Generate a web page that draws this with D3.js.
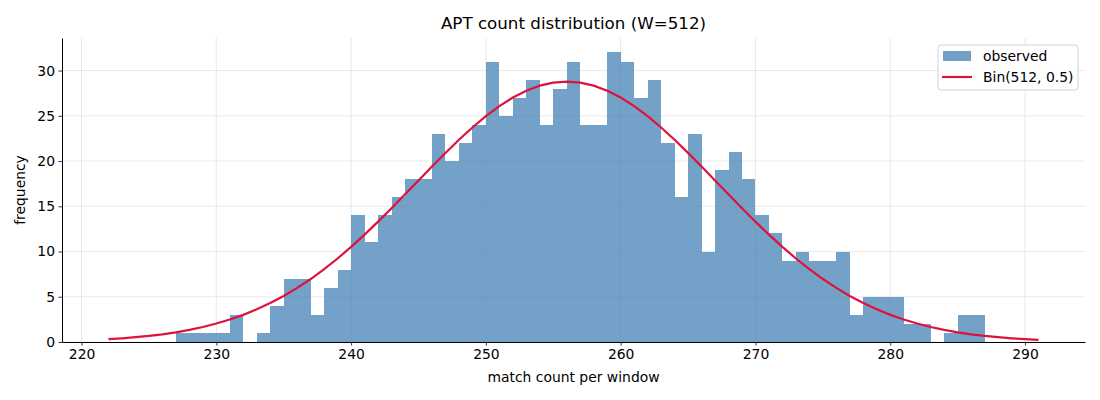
<!DOCTYPE html>
<html>
<head>
<meta charset="utf-8">
<script src="https://cdn.jsdelivr.net/npm/d3@7"></script>
<style>
  body { margin: 0; background: #fff; }
  svg { font-family: "DejaVu Sans", sans-serif; }
</style>
</head>
<body>
<div id="chart"></div>
<script>
// observed histogram, one bin per integer match count (bin start values)
var binStarts = [227, 228, 229, 230, 231, 232, 233, 234, 235, 236, 237, 238, 239, 240,
  241, 242, 243, 244, 245, 246, 247, 248, 249, 250, 251, 252, 253, 254, 255, 256,
  257, 258, 259, 260, 261, 262, 263, 264, 265, 266, 267, 268, 269, 270, 271, 272,
  273, 274, 275, 276, 277, 278, 279, 280, 281, 282, 283, 284, 285, 286];
var binCounts = [1, 1, 1, 1, 3, 0, 1, 4, 7, 7, 3, 6, 8, 14,
  11, 14, 16, 18, 18, 23, 20, 22, 24, 31, 25, 27, 29, 24, 28, 31,
  24, 24, 32, 31, 27, 29, 22, 16, 23, 10, 19, 21, 18, 14, 12, 9,
  10, 9, 9, 10, 3, 5, 5, 5, 2, 2, 0, 1, 3, 3];

// expected curve Bin(512, 0.5)
var curveX = [222, 223, 224, 225, 226, 227, 228, 229, 230, 231, 232, 233, 234, 235,
  236, 237, 238, 239, 240, 241, 242, 243, 244, 245, 246, 247, 248, 249, 250, 251,
  252, 253, 254, 255, 256, 257, 258, 259, 260, 261, 262, 263, 264, 265, 266, 267,
  268, 269, 270, 271, 272, 273, 274, 275, 276, 277, 278, 279, 280, 281, 282, 283,
  284, 285, 286, 287, 288, 289, 290, 291];
var curveY = [0.31, 0.41, 0.53, 0.67, 0.85, 1.07, 1.34, 1.66, 2.04, 2.48, 3.0, 3.61, 4.3, 5.09,
  5.98, 6.96, 8.05, 9.23, 10.51, 11.87, 13.3, 14.79, 16.32, 17.86, 19.39, 20.9, 22.35, 23.71, 24.96, 26.08,
  27.02, 27.78, 28.33, 28.67, 28.78, 28.67, 28.33, 27.78, 27.02, 26.08, 24.96, 23.71, 22.35, 20.9, 19.39, 17.86,
  16.32, 14.79, 13.3, 11.87, 10.51, 9.23, 8.05, 6.96, 5.98, 5.09, 4.3, 3.61, 3.0, 2.48, 2.04, 1.66,
  1.34, 1.07, 0.85, 0.67, 0.53, 0.41, 0.31, 0.24];

var xTicks = [220, 230, 240, 250, 260, 270, 280, 290];
var yTicks = [0, 5, 10, 15, 20, 25, 30];

var width = 1100, height = 400;
var margin = {left: 62, right: 15, top: 38, bottom: 58};
var fs = 13.9;   // 10pt

var svg = d3.select("#chart").append("svg")
  .attr("width", width)
  .attr("height", height);

var x = d3.scaleLinear()
  .domain([218.55, 294.45])
  .range([margin.left, width - margin.right]);

var y = d3.scaleLinear()
  .domain([0, 33.6])
  .range([height - margin.bottom, margin.top]);

// grid
var grid = svg.append("g").attr("stroke", "#b0b0b0").attr("stroke-opacity", 0.35).attr("stroke-width", 0.8);
grid.selectAll(".gx").data(xTicks).enter().append("line")
  .attr("x1", d => x(d)).attr("x2", d => x(d))
  .attr("y1", margin.top).attr("y2", height - margin.bottom);
grid.selectAll(".gy").data(yTicks).enter().append("line")
  .attr("x1", margin.left).attr("x2", width - margin.right)
  .attr("y1", d => y(d)).attr("y2", d => y(d));

// bars
svg.append("g").selectAll("rect")
  .data(binStarts)
  .enter().append("rect")
  .attr("x", d => x(d))
  .attr("width", d => x(d + 1) - x(d))
  .attr("y", (d, i) => y(binCounts[i]))
  .attr("height", (d, i) => y(0) - y(binCounts[i]))
  .attr("fill", "steelblue")
  .attr("fill-opacity", 0.75)
  .attr("shape-rendering", "crispEdges");

// expected curve
var line = d3.line()
  .x((d, i) => x(curveX[i]))
  .y(d => y(d));
svg.append("path")
  .datum(curveY)
  .attr("d", line)
  .attr("fill", "none")
  .attr("stroke", "crimson")
  .attr("stroke-width", 2.2);

// axes
var xAxis = svg.append("g")
  .attr("transform", "translate(0," + (height - margin.bottom) + ")")
  .call(d3.axisBottom(x).tickValues(xTicks).tickSize(3.5).tickPadding(3.5).tickSizeOuter(0));
var yAxis = svg.append("g")
  .attr("transform", "translate(" + margin.left + ",0)")
  .call(d3.axisLeft(y).tickValues(yTicks).tickSize(3.5).tickPadding(3.5).tickSizeOuter(0));

[xAxis, yAxis].forEach(function(a) {
  a.selectAll("text").attr("font-size", fs).attr("fill", "#000").attr("font-family", "DejaVu Sans");
  a.selectAll("line").attr("stroke", "#000").attr("stroke-width", 0.8);
  a.select(".domain").attr("stroke", "#000").attr("stroke-width", 1);
});

// labels
svg.append("text")
  .attr("x", (margin.left + width - margin.right) / 2)
  .attr("y", 29)
  .attr("text-anchor", "middle")
  .attr("font-size", 16.7)
  .text("APT count distribution (W=512)");

svg.append("text")
  .attr("x", (margin.left + width - margin.right) / 2)
  .attr("y", 382)
  .attr("text-anchor", "middle")
  .attr("font-size", fs)
  .text("match count per window");

svg.append("text")
  .attr("transform", "translate(25," + ((margin.top + height - margin.bottom) / 2) + ") rotate(-90)")
  .attr("text-anchor", "middle")
  .attr("font-size", fs)
  .text("frequency");

// legend
var lg = svg.append("g").attr("transform", "translate(938,45)");
lg.append("rect")
  .attr("width", 140).attr("height", 45).attr("rx", 3)
  .attr("fill", "#fff").attr("fill-opacity", 0.8)
  .attr("stroke", "#d0d0d0").attr("stroke-width", 1);
lg.append("rect")
  .attr("x", 5).attr("y", 6).attr("width", 28).attr("height", 10)
  .attr("fill", "steelblue").attr("fill-opacity", 0.75);
lg.append("line")
  .attr("x1", 4).attr("x2", 34).attr("y1", 32).attr("y2", 32)
  .attr("stroke", "crimson").attr("stroke-width", 2.2);
lg.append("text").attr("x", 45).attr("y", 16).attr("font-size", fs).text("observed");
lg.append("text").attr("x", 45).attr("y", 37).attr("font-size", fs).text("Bin(512, 0.5)");
</script>
</body>
</html>
